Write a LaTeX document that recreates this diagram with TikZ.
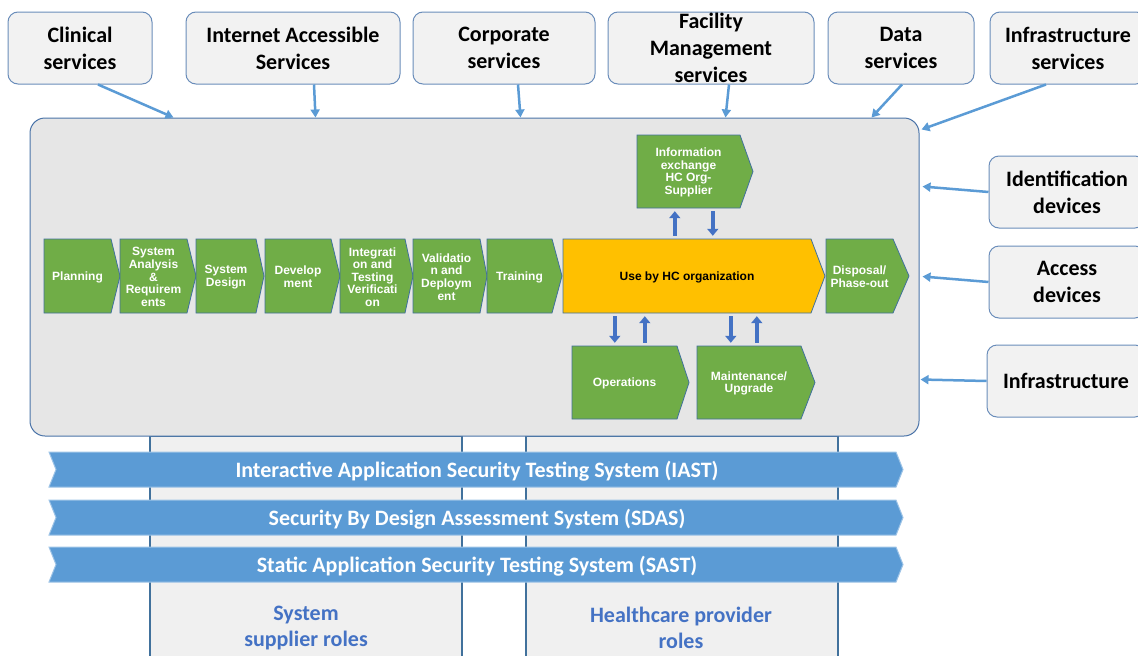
\documentclass[tikz,border=0pt]{standalone}
\usepackage{fontspec}
\setmainfont{Carlito}
\newfontfamily\stagefont{Liberation Sans}
\usetikzlibrary{arrows.meta,calc}

\definecolor{boxfill}{HTML}{F2F2F2}
\definecolor{boxline}{HTML}{6A8DBA}
\definecolor{mainfill}{HTML}{E6E6E6}
\definecolor{mainline}{HTML}{4A73A8}
\definecolor{stagegreen}{HTML}{70AD47}
\definecolor{stageline}{HTML}{41719C}
\definecolor{stageyellow}{HTML}{FFC000}
\definecolor{linkblue}{HTML}{5B9BD5}
\definecolor{blockblue}{HTML}{4472C4}
\definecolor{bandblue}{HTML}{5B9BD5}
\definecolor{bandline}{HTML}{9DC3E6}
\definecolor{colfill}{HTML}{F0F0F0}
\definecolor{colline}{HTML}{41719C}
\definecolor{roleblue}{HTML}{4472C4}

\tikzset{
  topbox/.style={draw=boxline, line width=1pt, fill=boxfill, rounded corners=10pt,
    inner sep=0pt, align=center, font=\fontsize{22}{27}\selectfont\bfseries},
  link/.style={draw=linkblue, line width=2.5pt, -{Triangle[length=8pt,width=9pt]}},
  stagebox/.style={draw=stageline, line width=0.8pt},
  stagelabel/.style={inner sep=0pt, align=center,
    font=\stagefont\fontsize{12}{12.6}\selectfont\bfseries},
  whitetext/.style={text=white},
  blacktext/.style={text=black},
  updown/.style={draw=blockblue, line width=4pt,
    -{Triangle[length=7pt,width=11pt]}, shorten <=3pt, shorten >=3pt},
  bandshape/.style={fill=bandblue, draw=bandline, line width=1pt},
  bandlabel/.style={inner sep=0pt, text=white, font=\fontsize{22}{26}\selectfont\bfseries},
  column/.style={draw=colline, line width=2pt, fill=colfill, inner sep=0pt},
  rolelabel/.style={align=center, text=roleblue, font=\fontsize{22}{26}\selectfont\bfseries}
}

% one life-cycle stage: name, left, base, tip, top, bottom, colour, text style, text
\newcommand\stage[9]{%
  \filldraw[stagebox, fill=#7] (#2,#5) -- (#3,#5) -- (#4,{(#5+#6)/2}) -- (#3,#6) -- (#2,#6) -- cycle;
  \node[stagelabel, #8, minimum width={(#3-#2)*1pt}, minimum height={(#6-#5)*1pt}]
    (#1) at ({(#2+#3)/2},{(#5+#6)/2+1}) {#9};
}

% one assessment band: name, top, bottom, text
\newcommand\band[4]{%
  \filldraw[bandshape] (49,#2) -- (896,#2) -- (903,{(#2+#3)/2}) -- (896,#3) -- (49,#3)
    -- (56,{(#2+#3)/2}) -- cycle;
  \node[bandlabel] (#1) at (477,{(#2+#3)/2+2}) {#4};
}

\begin{document}
\begin{tikzpicture}[x=1pt, y=-1pt]
\useasboundingbox (0,0) rectangle (1138,656);
\clip (0,0) rectangle (1138,656);

% role columns behind everything
\node[column, minimum width=312pt, minimum height=230pt] (supcol) at (306,551) {};
\node[column, minimum width=312pt, minimum height=230pt] (hccol) at (682,551) {};
\node[rolelabel] (suprole) at (306,628) {System\\supplier roles};
\node[rolelabel] (hcrole) at (681,628) {Healthcare provider\\roles};

% life-cycle frame
\node[draw=mainline, line width=1pt, fill=mainfill, rounded corners=15pt,
  minimum width=889pt, minimum height=318pt, inner sep=0pt] (main) at (474.5,277) {};

% services around the frame
\node[topbox, minimum width=144pt, minimum height=72pt] (clinical) at (80,48) {Clinical\\services};
\node[topbox, minimum width=214pt, minimum height=72pt] (internet) at (293,48) {Internet Accessible\\Services};
\node[topbox, minimum width=182pt, minimum height=72pt] (corporate) at (504,48) {Corporate\\services};
\node[topbox, minimum width=206pt, minimum height=72pt] (facility) at (711,48) {Facility\\Management\\services};
\node[topbox, minimum width=146pt, minimum height=72pt] (data) at (901,48) {Data\\services};
\node[topbox, minimum width=156pt, minimum height=72pt] (infserv) at (1068,48) {Infrastructure\\services};
\node[topbox, minimum width=156pt, minimum height=72pt] (ident) at (1067,192) {Identification\\devices};
\node[topbox, minimum width=156pt, minimum height=72pt] (access) at (1067,282) {Access\\devices};
\node[topbox, minimum width=158pt, minimum height=72pt] (infra) at (1066,381) {Infrastructure};

\draw[link] ($(clinical.south)+(18,0)$) -- ($(main.north west)+(144,0)$);
\draw[link] ($(internet.south)+(21,0)$) -- ($(main.north west)+(286,0)$);
\draw[link] ($(corporate.south)+(14,0)$) -- ($(main.north west)+(491,0)$);
\draw[link] ($(facility.south)+(18,0)$) -- ($(main.north west)+(696,0)$);
\draw[link] ($(data.south)+(1,0)$) -- ($(main.north west)+(842,0)$);
\draw[link] ($(infserv.south)+(-22,0)$) -- ($(main.north east)+(2,12)$);
\draw[link] (ident.west) -- ($(main.north east)+(3,69)$);
\draw[link] (access.west) -- ($(main.north east)+(3,159)$);
\draw[link] (infra.west) -- ($(main.north east)+(1,262)$);

% life-cycle stages
\stage{planning}{44}{111}{120}{239}{313}{stagegreen}{whitetext}{Planning}
\stage{analysis}{120}{187}{196}{239}{313}{stagegreen}{whitetext}{System\\Analysis\\\&\\Requirem\\ents}
\stage{design}{196}{256}{264}{239}{313}{stagegreen}{whitetext}{System\\Design}
\stage{develop}{265}{331}{340}{239}{313}{stagegreen}{whitetext}{Develop\\ment}
\stage{integration}{340}{405}{413}{239}{313}{stagegreen}{whitetext}{Integrati\\on and\\Testing\\Verificati\\on}
\stage{validation}{413}{480}{487}{239}{313}{stagegreen}{whitetext}{Validatio\\n and\\Deploym\\ent}
\stage{training}{487}{552}{562}{239}{313}{stagegreen}{whitetext}{Training}
\stage{use}{563}{811}{825}{239}{313}{stageyellow}{blacktext}{Use by HC organization}
\stage{disposal}{826}{893}{909}{239}{313}{stagegreen}{whitetext}{Disposal/\\Phase-out}
\stage{info}{637}{740}{753}{135}{208}{stagegreen}{whitetext}{Information\\exchange\\HC Org-\\Supplier}
\stage{operations}{572}{677}{689}{346}{419}{stagegreen}{whitetext}{Operations}
\stage{maintenance}{697}{801}{815}{346}{419}{stagegreen}{whitetext}{Maintenance/\\Upgrade}

% exchanges with the use phase
\draw[updown] ($(use.north west)+(112,-1)$) -- ($(info.south west)+(38,-1)$);
\draw[updown] ($(info.south west)+(76,-1)$) -- ($(use.north west)+(150,-1)$);
\draw[updown] ($(use.south west)+(52,-1)$) -- ($(operations.north west)+(43,-1)$);
\draw[updown] ($(operations.north west)+(73,-1)$) -- ($(use.south west)+(82,-1)$);
\draw[updown] ($(use.south west)+(168,-1)$) -- ($(maintenance.north west)+(34,-1)$);
\draw[updown] ($(maintenance.north west)+(60,-1)$) -- ($(use.south west)+(194,-1)$);

% assessment bands
\band{iast}{452}{487}{Interactive Application Security Testing System (IAST)}
\band{sdas}{500}{535}{Security By Design Assessment System (SDAS)}
\band{sast}{547}{582}{Static Application Security Testing System (SAST)}
\end{tikzpicture}
\end{document}
